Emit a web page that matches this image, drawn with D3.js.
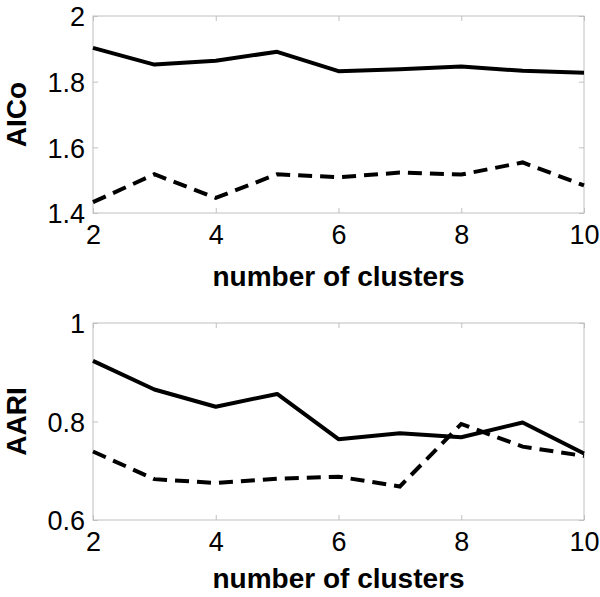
<!DOCTYPE html>
<html><head><meta charset="utf-8">
<script src="https://cdn.jsdelivr.net/npm/d3@7"></script>
<style>body{margin:0;background:#fff;} text{font-family:"Liberation Sans",Arial,sans-serif;}</style>
</head><body><svg id="c" width="600" height="597"></svg>
<script>
const clusters = [2,3,4,5,6,7,8,9,10];
const xTicks = [2,4,6,8,10];
const aicoSolid  = [1.903,1.852,1.864,1.891,1.832,1.838,1.846,1.833,1.827];
const aicoDashed = [1.433,1.518,1.446,1.518,1.509,1.523,1.517,1.554,1.484];
const aicoTicks = [1.4,1.6,1.8,2];
const aariSolid  = [0.923,0.865,0.830,0.856,0.764,0.776,0.768,0.798,0.735];
const aariDashed = [0.739,0.683,0.675,0.684,0.688,0.668,0.795,0.749,0.730];
const aariTicks = [0.6,0.8,1];

const svg = d3.select("#c");
const left = 93, right = 584;

function panel(top, bottom, yDom, yTicks, solid, dashed, ylab, xlabOff){
  const x = d3.scaleLinear().domain([2,10]).range([left,right]);
  const y = d3.scaleLinear().domain(yDom).range([bottom,top]);
  const g = svg.append("g");
  g.append("rect").attr("x",left).attr("y",top).attr("width",right-left).attr("height",bottom-top)
    .attr("fill","none").attr("stroke","#c0c0c0").attr("stroke-width",1);
  const tk = 5;
  const fmt = d => String(d);
  const xb = g.append("g").attr("transform",`translate(0,${bottom})`)
    .call(d3.axisBottom(x).tickValues(xTicks).tickSize(-tk).tickPadding(12).tickFormat(fmt));
  const xt = g.append("g").attr("transform",`translate(0,${top})`)
    .call(d3.axisTop(x).tickValues(xTicks).tickSize(-tk).tickFormat(""));
  const yl = g.append("g").attr("transform",`translate(${left},0)`)
    .call(d3.axisLeft(y).tickValues(yTicks).tickSize(-tk).tickPadding(8).tickFormat(fmt));
  const yr = g.append("g").attr("transform",`translate(${right},0)`)
    .call(d3.axisRight(y).tickValues(yTicks).tickSize(-tk).tickFormat(""));
  [xb,xt,yl,yr].forEach(a=>{
    a.select(".domain").remove();
    a.selectAll(".tick line").attr("stroke","#c0c0c0");
    a.selectAll(".tick text").attr("fill","#000").style("font-size","27px").style("font-family","Liberation Sans, Arial, sans-serif");
  });
  xb.selectAll(".tick text").attr("dy","0.71em");
  yl.selectAll(".tick text").attr("dy","0.36em");
  const line = d3.line().x((d,i)=>x(clusters[i])).y(d=>y(d));
  g.append("path").datum(solid).attr("d",line).attr("fill","none").attr("stroke","#000").attr("stroke-width",4).attr("stroke-linejoin","round");
  g.append("path").datum(dashed).attr("d",line).attr("fill","none").attr("stroke","#000").attr("stroke-width",4).attr("stroke-dasharray","14,8");
  g.append("text").attr("x",(left+right)/2).attr("y",bottom+xlabOff).attr("text-anchor","middle")
    .style("font-size","28px").style("font-weight","bold").text("number of clusters");
  g.append("text").attr("transform",`translate(${26},${(top+bottom)/2}) rotate(-90)`).attr("text-anchor","middle")
    .style("font-size","28px").style("font-weight","bold").text(ylab);
}
panel(16, 213, [1.4,2], aicoTicks, aicoSolid, aicoDashed, "AICo", 73);
panel(323, 520, [0.6,1], aariTicks, aariSolid, aariDashed, "AARI", 68);
</script></body></html>
